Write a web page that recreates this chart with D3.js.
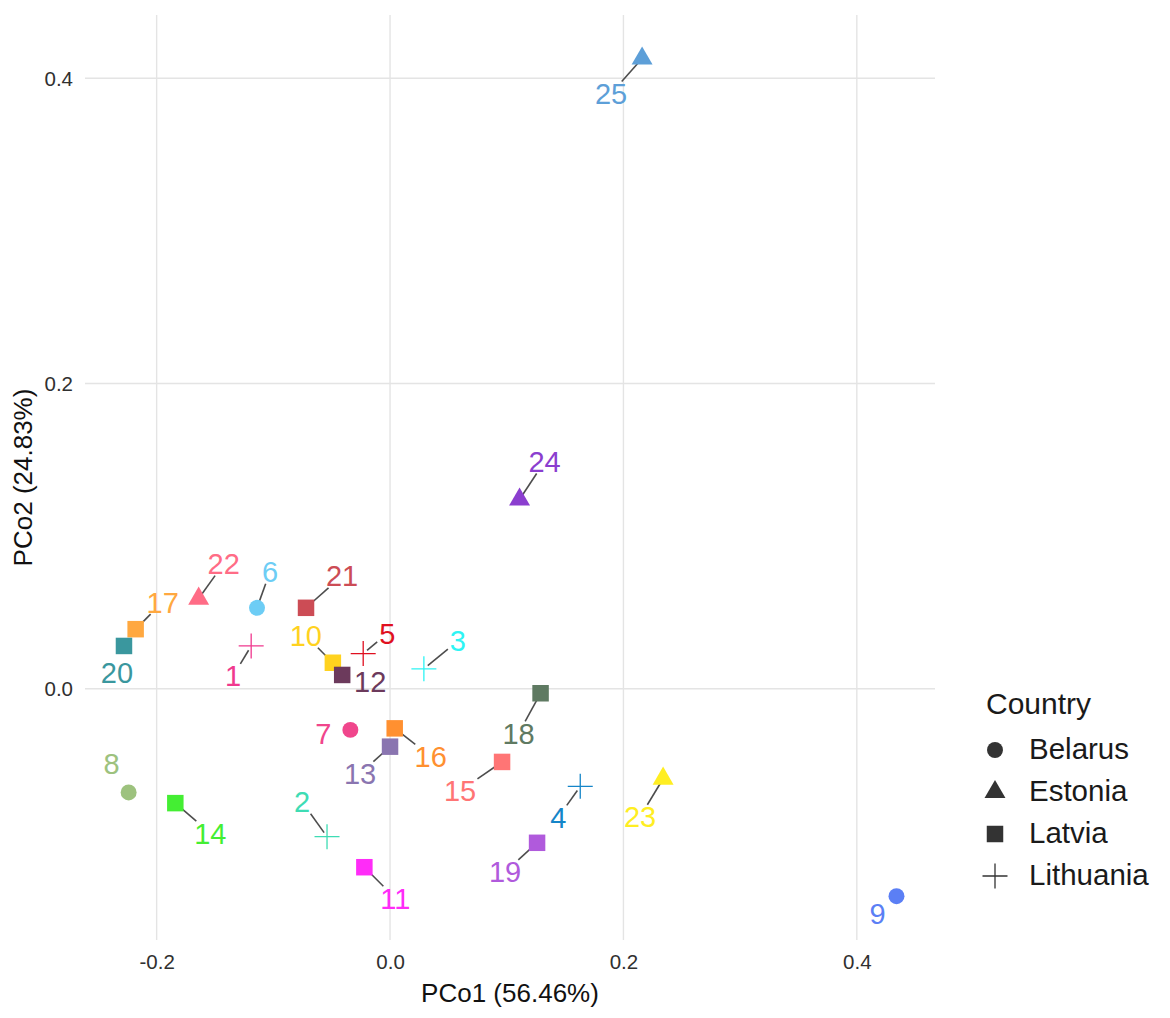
<!DOCTYPE html>
<html>
<head>
<meta charset="utf-8">
<script src="https://cdn.jsdelivr.net/npm/d3@7"></script>
<style>
  body { margin: 0; background: #fff; }
  svg { display: block; font-family: "Liberation Sans", Arial, sans-serif; }
</style>
</head>
<body>
<svg id="chart"></svg>
<script>
// sample ids, country and PCoA scores
const ids = [1, 2, 3, 4, 5, 6, 7, 8, 9, 10, 11, 12, 13, 14, 15, 16, 17, 18, 19, 20, 21, 22, 23, 24, 25];
const country = ["Lithuania", "Lithuania", "Lithuania", "Lithuania", "Lithuania",
  "Belarus", "Belarus", "Belarus", "Belarus",
  "Latvia", "Latvia", "Latvia", "Latvia", "Latvia", "Latvia", "Latvia", "Latvia", "Latvia", "Latvia", "Latvia", "Latvia",
  "Estonia", "Estonia", "Estonia", "Estonia"];
const pco1 = [-0.119, -0.054, 0.029, 0.163, -0.023, -0.114, -0.034, -0.224, 0.434, -0.049,
  -0.022, -0.041, 0.000, -0.184, 0.096, 0.004, -0.218, 0.129, 0.126, -0.228,
  -0.072, -0.164, 0.234, 0.111, 0.216];
const pco2 = [0.028, -0.097, 0.013, -0.064, 0.023, 0.053, -0.027, -0.068, -0.136, 0.017,
  -0.117, 0.009, -0.038, -0.075, -0.048, -0.026, 0.039, -0.003, -0.101, 0.028,
  0.053, 0.059, -0.059, 0.124, 0.413];
const colours = ["#f0398e", "#3edcb4", "#2ef4f4", "#1585c8", "#e01020", "#6dcdf5", "#f0468c",
  "#9dc27e", "#5b7ff5", "#ffd21f", "#ff2cf8", "#6c3a5c", "#8a75b0", "#44ee33", "#ff7575",
  "#ff9030", "#ffa840", "#5f7a62", "#b05adc", "#3a979e", "#cc4c55", "#ff6c86", "#ffee22",
  "#8b3ecf", "#5d9fd8"];
const countries = ["Belarus", "Estonia", "Latvia", "Lithuania"];
const xTicks = [-0.2, 0.0, 0.2, 0.4];
const yTicks = [0.0, 0.2, 0.4];

// where the repelled labels ended up, in px from their point
const labelOffset = [[-18, 30], [-25, -35], [34, -28], [-22, 31], [24, -20], [13, -36], [-27, 4],
  [-17, -29], [-19, 17], [-27, -27], [31, 31], [28, 7], [-30, 27], [35, 30], [-42, 29],
  [36, 28], [27, -27], [-22, 40], [-32, 29], [-7, 27], [36, -32], [25, -35], [-23, 38],
  [25, -38], [-31, 35]];
const noLeader = [7, 8, 9, 12, 20];

const W = 1170, H = 1018;
const panel = { left: 85, right: 935, top: 15, bottom: 940 };

const svg = d3.select("#chart").attr("width", W).attr("height", H);

const x = d3.scaleLinear().domain([-0.2614, 0.467]).range([panel.left, panel.right]);
const y = d3.scaleLinear().domain([-0.1647, 0.4415]).range([panel.bottom, panel.top]);
const fmt = d => d.toFixed(1);

// grid
const grid = svg.append("g").attr("stroke", "#e4e4e4").attr("stroke-width", 1.4);
grid.selectAll(".gx").data(xTicks).enter().append("line")
  .attr("x1", d => x(d)).attr("x2", d => x(d))
  .attr("y1", panel.top).attr("y2", panel.bottom);
grid.selectAll(".gy").data(yTicks).enter().append("line")
  .attr("x1", panel.left).attr("x2", panel.right)
  .attr("y1", d => y(d)).attr("y2", d => y(d));

// axes (text only, ggplot minimal style)
const xAxis = svg.append("g")
  .attr("transform", `translate(0,${panel.bottom + 10})`)
  .call(d3.axisBottom(x).tickValues(xTicks).tickFormat(fmt).tickSize(0).tickPadding(4));
const yAxis = svg.append("g")
  .attr("transform", `translate(${panel.left - 12},0)`)
  .call(d3.axisLeft(y).tickValues(yTicks).tickFormat(fmt).tickSize(0).tickPadding(0));
[xAxis, yAxis].forEach(a => {
  a.select(".domain").remove();
  a.selectAll("text").attr("font-size", 20.5).attr("fill", "#303030")
    .attr("font-family", "Liberation Sans, Arial, sans-serif");
});
yAxis.selectAll("text").attr("dy", "0.35em");

svg.append("text")
  .attr("x", (panel.left + panel.right) / 2).attr("y", 1002)
  .attr("text-anchor", "middle").attr("font-size", 26).attr("fill", "#111")
  .text("PCo1 (56.46%)");
svg.append("text")
  .attr("transform", `translate(32,${(panel.top + panel.bottom) / 2}) rotate(-90)`)
  .attr("text-anchor", "middle").attr("font-size", 26).attr("fill", "#111")
  .text("PCo2 (24.83%)");

// shapes per country
const plusPath = s => `M${-s / 2},0H${s / 2}M0,${-s / 2}V${s / 2}`;
function shape(sel, c, fill) {
  if (c === "Lithuania") {
    sel.append("path").attr("d", plusPath(25))
      .attr("fill", "none").attr("stroke", fill).attr("stroke-width", 1.3);
  } else {
    const type = { Belarus: d3.symbolCircle, Estonia: d3.symbolTriangle, Latvia: d3.symbolSquare }[c];
    const size = { Belarus: 200, Estonia: 190, Latvia: 272 }[c];
    sel.append("path").attr("d", d3.symbol().type(type).size(size)()).attr("fill", fill);
  }
}

const data = ids.map((id, i) => ({
  id, country: country[i], px: x(pco1[i]), py: y(pco2[i]), colour: colours[i],
  lx: x(pco1[i]) + labelOffset[i][0], ly: y(pco2[i]) + labelOffset[i][1]
}));

// leader segments
const seg = svg.append("g").attr("stroke", "#4d4d4d").attr("stroke-width", 1.6);
data.filter(d => !noLeader.includes(d.id)).forEach(d => {
  const dx = d.px - d.lx, dy = d.py - d.ly;
  const len = Math.hypot(dx, dy);
  const hw = String(d.id).length * 8 + 2, hh = 12;
  const t = Math.min(hw / Math.abs(dx || 1e-6), hh / Math.abs(dy || 1e-6));
  const x1 = d.lx + dx * t, y1 = d.ly + dy * t;
  const x2 = d.px - dx / len * 5, y2 = d.py - dy / len * 5;
  seg.append("line").attr("x1", x1).attr("y1", y1).attr("x2", x2).attr("y2", y2);
});

// points
const pts = svg.append("g");
data.forEach(d => {
  const g = pts.append("g").attr("transform", `translate(${d.px},${d.py})`);
  shape(g, d.country, d.colour);
});

// labels
svg.append("g").selectAll("text").data(data).enter().append("text")
  .attr("x", d => d.lx).attr("y", d => d.ly)
  .attr("text-anchor", "middle").attr("dy", "0.36em")
  .attr("font-size", 29).attr("fill", d => d.colour)
  .text(d => d.id);

// legend
const legend = svg.append("g");
legend.append("text").attr("x", 986).attr("y", 703).attr("dy", "0.36em")
  .attr("font-size", 30).attr("fill", "#1a1a1a").text("Country");
countries.forEach((c, i) => {
  const yy = 748 + i * 42;
  const g = legend.append("g").attr("transform", `translate(995,${yy + 2})`);
  shape(g, c, "#333");
  legend.append("text").attr("x", 1029).attr("y", yy).attr("dy", "0.36em")
    .attr("font-size", 29.5).attr("fill", "#1a1a1a").text(c);
});
</script>
</body>
</html>
